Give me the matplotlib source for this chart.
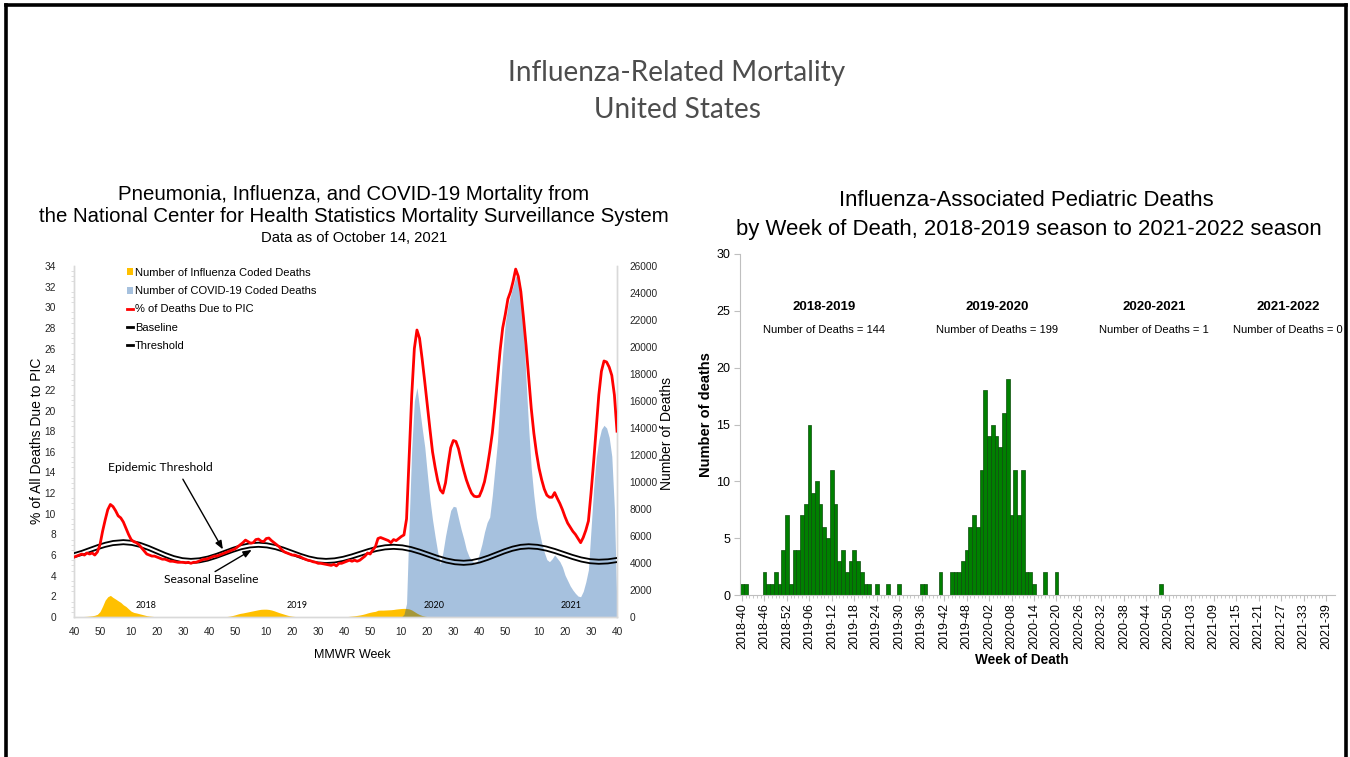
import matplotlib
matplotlib.use("Agg")
import matplotlib.pyplot as plt
from matplotlib.lines import Line2D
from matplotlib.patches import Patch

# ---------------- Data: left chart (NCHS mortality surveillance) ----------------
mmwr_years = [2017, 2018, 2019, 2020, 2021]
mmwr_first_week = {2017: 40, 2018: 1, 2019: 1, 2020: 1, 2021: 1}
mmwr_last_week = {2017: 52, 2018: 52, 2019: 52, 2020: 53, 2021: 40}

pic_pct = [
    5.8, 5.9, 6.0, 6.1, 6.0, 6.2, 6.1, 6.2, 6.0, 6.3,
    7.0, 8.3, 9.4, 10.4, 10.9, 10.7, 10.3, 9.8, 9.6, 9.2,
    8.6, 8.0, 7.5, 7.3, 7.2, 7.0, 6.7, 6.4, 6.1, 6.0,
    5.9, 5.9, 5.8, 5.7, 5.6, 5.6, 5.5, 5.4, 5.4, 5.35,
    5.3, 5.3, 5.3, 5.25, 5.3, 5.2, 5.3, 5.3, 5.4, 5.5,
    5.6, 5.6, 5.7, 5.8, 5.9, 5.9, 6.0, 6.1, 6.2, 6.3,
    6.4, 6.5, 6.6, 6.8, 7.0, 7.2, 7.45, 7.3, 7.15, 7.2,
    7.5, 7.55, 7.35, 7.3, 7.6, 7.65, 7.4, 7.2, 7.0, 6.8,
    6.5, 6.3, 6.2, 6.1, 6.0, 6.0, 5.9, 5.85, 5.7, 5.6,
    5.5, 5.45, 5.35, 5.3, 5.2, 5.2, 5.15, 5.1, 5.05, 5.0,
    5.1, 4.95, 5.2, 5.2, 5.3, 5.4, 5.5, 5.4, 5.5, 5.4,
    5.5, 5.7, 5.9, 6.2, 6.1, 6.5, 6.8, 7.6, 7.7, 7.6,
    7.5, 7.4, 7.2, 7.5, 7.4, 7.6, 7.8, 7.95, 9.5, 15.5,
    21.5, 26.0, 27.8, 27.0, 25.0, 22.8, 20.5, 18.2, 16.0, 14.5,
    13.2, 12.3, 12.0, 13.0, 14.8, 16.4, 17.1, 17.0, 16.3, 15.2,
    14.2, 13.3, 12.6, 12.0, 11.7, 11.65, 11.7, 12.3, 13.1, 14.4,
    16.0, 17.8, 20.3, 23.0, 25.8, 28.0, 29.3, 30.8, 31.5, 32.5,
    33.7, 33.0, 31.5, 29.0, 26.3, 23.2, 20.2, 17.8, 15.9, 14.4,
    13.3, 12.4, 11.8, 11.6, 11.6, 12.05, 11.5, 11.0, 10.4, 9.7,
    9.1, 8.7, 8.3, 8.0, 7.6, 7.2, 7.7, 8.4, 9.3, 12.0,
    15.0, 18.2, 21.5, 23.8, 24.8, 24.7, 24.2, 23.4, 21.5, 18.0,
]

flu_deaths = [
    10, 15, 20, 30, 40, 50, 70, 90, 130, 200,
    400, 800, 1250, 1500, 1600, 1450, 1330, 1200, 1080, 900,
    780, 600, 430, 340, 300, 250, 200, 150, 100, 70,
    50, 30, 20, 15, 10, 10, 8, 8, 6, 6,
    5, 5, 5, 5, 5, 5, 5, 5, 5, 5,
    5, 6, 8, 10, 12, 15, 18, 20, 25, 40,
    70, 110, 160, 220, 270, 300, 340, 380, 420, 460,
    500, 540, 570, 580, 580, 560, 520, 460, 390, 320,
    260, 200, 140, 90, 60, 40, 25, 15, 10, 8,
    6, 5, 5, 5, 5, 5, 5, 5, 5, 5,
    5, 6, 8, 12, 20, 30, 50, 70, 90, 120,
    150, 190, 240, 300, 350, 390, 420, 500, 510, 510,
    520, 530, 540, 560, 590, 610, 630, 640, 630, 600,
    520, 400, 280, 180, 110, 60, 30, 15, 8, 5,
] + [3] * 70

covid_deaths = [0] * 127 + [
    200, 1000, 7000, 12500, 16000, 17000, 15500, 14000, 12600, 10600,
    8700, 7200, 5950, 4800, 3900, 4800, 6000, 7000, 7900, 8200,
    8150, 7300, 6500, 5800, 5000, 4500, 4200, 4050, 4000, 4700,
    5400, 6300, 7000, 7400, 9000, 11000, 13000, 16500, 19500, 21800,
    23000, 23800, 24500, 25200, 25400, 24300, 21500, 17500, 14000, 11000,
    9000, 7400, 6400, 5500, 4800, 4250, 4100, 4300, 4600, 4350,
    4100, 3700, 3100, 2700, 2300, 2000, 1750, 1550, 1500, 1900,
    2600, 3500, 6500, 9500, 11800, 13100, 13900, 14200, 14000, 13300,
    11900, 8000, 500,
]

baseline_week_idx = [
    0, 3, 6, 9, 12, 15, 19,
    22.25, 25.5, 28.75, 32, 35.25, 38.5, 41.75, 45,
    48.25, 51.5, 54.75, 58, 61.25, 64.5, 67.75, 71,
    74.25, 77.5, 80.75, 84, 87.25, 90.5, 93.75, 97,
    100.25, 103.5, 106.75, 110, 113.25, 116.5, 119.75, 123,
    126.375, 129.75, 133.125, 136.5, 139.875, 143.25, 146.625, 150,
    153.125, 156.25, 159.375, 162.5, 165.625, 168.75, 171.875, 175,
    178.375, 181.75, 185.125, 188.5, 191.875, 195.25, 198.625, 202,
    205.5, 209,
]
baseline_pct = [
    5.78, 6.01, 6.285, 6.557, 6.79, 6.963, 7.05,
    6.98, 6.784, 6.488, 6.14, 5.792, 5.496, 5.30, 5.23,
    5.29, 5.459, 5.715, 6.015, 6.315, 6.571, 6.74, 6.8,
    6.74, 6.571, 6.315, 6.015, 5.715, 5.459, 5.29, 5.23,
    5.282, 5.43, 5.653, 5.915, 6.177, 6.40, 6.548, 6.6,
    6.541, 6.374, 6.121, 5.825, 5.529, 5.276, 5.109, 5.05,
    5.111, 5.284, 5.544, 5.85, 6.156, 6.416, 6.589, 6.65,
    6.593, 6.431, 6.187, 5.90, 5.613, 5.369, 5.207, 5.15,
    5.19, 5.32,
]
threshold_pct = [
    6.18, 6.41, 6.685, 6.957, 7.19, 7.363, 7.45,
    7.38, 7.184, 6.888, 6.54, 6.192, 5.896, 5.70, 5.63,
    5.69, 5.859, 6.115, 6.415, 6.715, 6.971, 7.14, 7.2,
    7.14, 6.971, 6.715, 6.415, 6.115, 5.859, 5.69, 5.63,
    5.682, 5.83, 6.053, 6.315, 6.577, 6.80, 6.948, 7.0,
    6.941, 6.774, 6.521, 6.225, 5.929, 5.676, 5.509, 5.45,
    5.511, 5.684, 5.944, 6.25, 6.556, 6.816, 6.989, 7.05,
    6.993, 6.831, 6.587, 6.30, 6.013, 5.769, 5.607, 5.55,
    5.59, 5.72,
]
legend_labels = ["Number of Influenza Coded Deaths", "Number of COVID-19 Coded Deaths",
                 "% of Deaths Due to PIC", "Baseline", "Threshold"]
year_labels = ["2018", "2019", "2020", "2021"]

# ---------------- Data: right chart (pediatric deaths) ----------------
ped_years = [2018, 2019, 2020, 2021]
ped_first_week = {2018: 40, 2019: 1, 2020: 1, 2021: 1}
ped_deaths = {
    2018: [1, 1, 0, 0, 0, 0, 2, 1, 1, 2, 1, 4, 7],
    2019: [1, 4, 4, 7, 8, 15, 9, 10, 8, 6,
           5, 11, 8, 3, 4, 2, 3, 4, 3, 2,
           1, 1, 0, 1, 0, 0, 1, 0, 0, 1,
           0, 0, 0, 0, 0, 1, 1, 0, 0, 0,
           2, 0, 0, 2, 2, 2, 3, 4, 6, 7,
           6, 11],
    2020: [18, 14, 15, 14, 13, 16, 19, 7, 11, 7,
           11, 2, 2, 1, 0, 0, 2, 0, 0, 2,
           0, 0, 0, 0, 0, 0, 0, 0, 0, 0,
           0, 0, 0, 0, 0, 0, 0, 0, 0, 0,
           0, 0, 0, 0, 0, 0, 0, 1, 0, 0,
           0, 0, 0],
    2021: [0] * 39,
}
season_names = ["2018-2019", "2019-2020", "2020-2021", "2021-2022"]
season_totals = [144, 199, 1, 0]

# ---------------- Figure ----------------
W, H = 1350, 757
plt.rcParams['font.family'] = ['Liberation Sans', 'DejaVu Sans']
fig = plt.figure(figsize=(W / 100, H / 100), dpi=100)
fig.patch.set_facecolor('white')


def fx(px):
    return px / W


def fy(py):
    return 1 - py / H


CAL = ['Lato', 'DejaVu Sans']

# slide border
for xs, ys in [([fx(6), fx(6)], [fy(5), 0]), ([fx(6), fx(1346)], [fy(5), fy(5)]),
               ([fx(1346), fx(1346)], [fy(5), 0])]:
    fig.add_artist(Line2D(xs, ys, color='black', lw=2.6))

fig.text(fx(677), fy(73), "Influenza-Related Mortality", ha='center', va='center',
         fontsize=20.2, color='#4d4d4d', family=CAL)
fig.text(fx(677), fy(110), "United States", ha='center', va='center',
         fontsize=20.2, color='#4d4d4d', family=CAL)

# ---------------- Left chart ----------------
weeks = []
for yr in mmwr_years:
    for wk in range(mmwr_first_week[yr], mmwr_last_week[yr] + 1):
        weeks.append(wk)
xidx = list(range(len(weeks)))

axC = fig.add_axes([fx(74), fy(617), fx(617) - fx(74), fy(266) - fy(617)])
axC.fill_between(xidx, 0, flu_deaths, color='#ffc000', lw=0, zorder=1)
axC.fill_between(xidx, 0, covid_deaths, color='#004ea1', alpha=0.35, lw=0, zorder=2)
axC.set_xlim(0, len(xidx) - 1)
axC.set_ylim(0, 26000)

axP = axC.twinx()
axC.yaxis.tick_right()
axC.yaxis.set_label_position('right')
axP.yaxis.tick_left()
axP.yaxis.set_label_position('left')
axP.set_ylim(0, 34)
axP.set_xlim(0, len(xidx) - 1)

axP.plot(baseline_week_idx, baseline_pct, color='black', lw=1.3, zorder=3)
axP.plot(baseline_week_idx, threshold_pct, color='black', lw=1.3, zorder=3)
axP.plot(xidx, pic_pct, color='#ff0000', lw=2.0, zorder=4)

axC.set_yticks(range(0, 26001, 2000))
axP.set_yticks(range(0, 35, 2))
tick_pos = [i for i, wk in enumerate(weeks) if wk % 10 == 0]
axC.set_xticks(tick_pos)
axC.set_xticklabels([str(weeks[i]) for i in tick_pos])
axC.tick_params(axis='x', length=0, pad=7, labelsize=7.3, colors='#262626')
axC.tick_params(axis='y', length=0, pad=9, labelsize=7.3, colors='#262626')
axP.tick_params(axis='y', length=0, pad=13, labelsize=7.3, colors='#262626')
axP.set_yticks([v / 2 for v in range(0, 69)], minor=True)
axP.tick_params(axis='y', which='minor', length=2, color='#d9d9d9', direction='out')
for ax in (axC, axP):
    ax.spines['top'].set_visible(False)
    for s in ('left', 'right', 'bottom'):
        ax.spines[s].set_color('#d9d9d9')
        ax.spines[s].set_linewidth(1.0)

handles = [Patch(facecolor='#ffc000', edgecolor='none'),
           Patch(facecolor='#004ea1', alpha=0.35, edgecolor='none'),
           Line2D([0], [0], color='#ff0000', lw=2),
           Line2D([0], [0], color='black', lw=2),
           Line2D([0], [0], color='black', lw=2)]
axP.legend(handles, legend_labels, loc='upper left', bbox_to_anchor=(0.097, 0.995),
           frameon=False, fontsize=8, handlelength=0.6, handleheight=0.6,
           handletextpad=0.15, labelspacing=0.75, borderaxespad=0, borderpad=0)

axP.text(33.1, 14.5, "Epidemic Threshold", ha='center', va='center', fontsize=8.7, family=CAL)
axP.text(52.7, 3.6, "Seasonal Baseline", ha='center', va='center', fontsize=8.7, family=CAL)
arrow = dict(arrowstyle='-|>,head_length=0.5,head_width=0.2', color='black', lw=1.0,
             shrinkA=0, shrinkB=0)
axP.annotate('', xy=(57.3, 6.55), xytext=(41.9, 13.35), arrowprops=arrow)
axP.annotate('', xy=(68.4, 6.5), xytext=(54.3, 4.4), arrowprops=arrow)
for lbl, xi in zip(year_labels, [27.7, 85.8, 138.6, 191.3]):
    axP.text(xi, 1.07, lbl, ha='center', va='center', fontsize=6.5, family=CAL)

fig.text(fx(354), fy(195), "Pneumonia, Influenza, and COVID-19 Mortality from",
         ha='center', va='center', fontsize=14.7)
fig.text(fx(354), fy(217), "the National Center for Health Statistics Mortality Surveillance System",
         ha='center', va='center', fontsize=14.7)
fig.text(fx(354), fy(238), "Data as of October 14, 2021", ha='center', va='center', fontsize=10.6)
fig.text(fx(37), fy(441), "% of All Deaths Due to PIC", rotation=90, ha='center', va='center',
         fontsize=10)
fig.text(fx(667), fy(433), "Number of Deaths", rotation=90, ha='center', va='center', fontsize=10)
fig.text(fx(352), fy(655), "MMWR Week", ha='center', va='center', fontsize=9)

# ---------------- Right chart ----------------
ped_labels, ped_values = [], []
for yr in ped_years:
    for k, v in enumerate(ped_deaths[yr]):
        ped_labels.append(f"{yr}-{ped_first_week[yr] + k:02d}")
        ped_values.append(v)
bx = [i for i, v in enumerate(ped_values) if v > 0]
bv = [ped_values[i] for i in bx]

axB = fig.add_axes([fx(740), fy(595), fx(1335) - fx(740), fy(254) - fy(595)])
axB.bar(bx, bv, width=1.0, color='#008000', edgecolor='#0b4d0b', linewidth=0.5)
axB.set_xlim(-0.53, 158.4)
axB.set_ylim(0, 30)
axB.set_yticks(range(0, 31, 5))
axB.set_xticks(range(0, len(ped_labels), 6))
axB.set_xticklabels(ped_labels[::6], rotation=90)
axB.set_xticks(range(len(ped_labels)), minor=True)
axB.tick_params(axis='x', which='major', length=4, color='#bfbfbf', labelsize=9, pad=2)
axB.tick_params(axis='x', which='minor', length=2, color='#bfbfbf')
axB.tick_params(axis='y', length=4, color='#bfbfbf', labelsize=9, pad=3)
for s in ('top', 'right'):
    axB.spines[s].set_visible(False)
for s in ('left', 'bottom'):
    axB.spines[s].set_color('#bfbfbf')

for name, total, xc in zip(season_names, season_totals, [21.9, 68.1, 110.0, 145.9]):
    axB.text(xc, 25.3, name, ha='center', va='center', fontsize=9.5, fontweight='bold')
    axB.text(xc, 23.3, f"Number of Deaths = {total}", ha='center', va='center', fontsize=8)

fig.text(fx(1026), fy(200), "Influenza-Associated Pediatric Deaths", ha='center', va='center',
         fontsize=15.9)
fig.text(fx(1029), fy(230), "by Week of Death, 2018-2019 season to 2021-2022 season",
         ha='center', va='center', fontsize=15.9)
fig.text(fx(706), fy(415), "Number of deaths", rotation=90, ha='center', va='center',
         fontsize=10.5, fontweight='bold')
fig.text(fx(1022), fy(660), "Week of Death", ha='center', va='center', fontsize=9.8,
         fontweight='bold')

fig.savefig("out.png", dpi=100, facecolor='white')
